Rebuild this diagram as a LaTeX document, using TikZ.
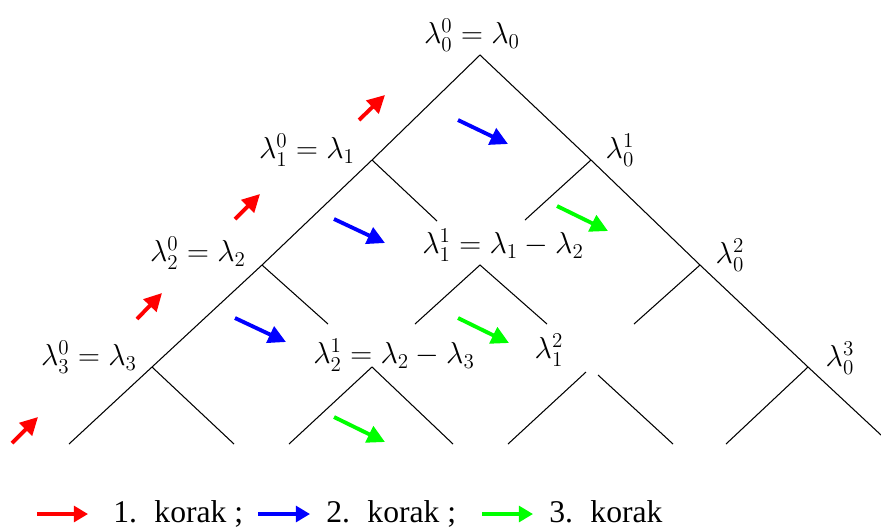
\documentclass[tikz,border=0pt]{standalone}
\usepackage{fontspec}
\newfontfamily\legfont{Liberation Serif}
\usepackage{tikz}
\usetikzlibrary{arrows.meta,calc}
\definecolor{stepred}{HTML}{FF0000}
\definecolor{stepblue}{HTML}{0000FF}
\definecolor{stepgreen}{HTML}{00FF00}
\tikzset{
  lbl/.style   ={inner sep=0pt, font=\fontsize{17}{20}\selectfont},
  ln/.style    ={draw=black, line width=.6pt},
  arr/.style   ={line width=2.2pt, -{Triangle[length=10pt,width=10pt]}},
  arrr/.style  ={arr, draw=stepred},
  arrb/.style  ={arr, draw=stepblue},
  arrg/.style  ={arr, draw=stepgreen},
  legarr/.style={line width=1.8pt, -{Triangle[length=8pt,width=9pt]}},
  leg/.style   ={font=\legfont\fontsize{18}{22}\selectfont, anchor=base west, inner sep=0pt},
}

\begin{document}
\begin{tikzpicture}[x=0.02cm,y=-0.02cm]
    \useasboundingbox (0,0) rectangle (881,529);
    % labels
    \node[lbl] (l00) at (472,35)  {$\lambda_0^0=\lambda_0$};
    \node[lbl] (l10) at (307,150) {$\lambda_1^0=\lambda_1$};
    \node[lbl] (l20) at (198,253) {$\lambda_2^0=\lambda_2$};
    \node[lbl] (l30) at (89,357)  {$\lambda_3^0=\lambda_3$};
    \node[lbl] (l01) at (620,150) {$\lambda_0^1$};
    \node[lbl] (l11) at (503,245) {$\lambda_1^1=\lambda_1-\lambda_2$};
    \node[lbl] (l02) at (730,255) {$\lambda_0^2$};
    \node[lbl] (l21) at (394,355) {$\lambda_2^1=\lambda_2-\lambda_3$};
    \node[lbl] (l12) at (549,350) {$\lambda_1^2$};
    \node[lbl] (l03) at (840,358) {$\lambda_0^3$};
    % junctions
    \coordinate (j00) at (480,55);
    \coordinate (j10) at (372,160);
    \coordinate (j01) at (591,160);
    \coordinate (j20) at (262,265);
    \coordinate (j11) at (480,265);
    \coordinate (j02) at (700,265);
    \coordinate (j30) at (152,367);
    \coordinate (j21) at (372,367);
    \coordinate (j03) at (808,367);
    % loose ends
    \coordinate (e10) at (437,221);
    \coordinate (e01) at (525,220);
    \coordinate (e20) at (328,324);
    \coordinate (e11a) at (415,324);
    \coordinate (e11b) at (547,324);
    \coordinate (e02) at (634,324);
    \coordinate (s12a) at (586,372);
    \coordinate (s12b) at (598,375);
    \coordinate (b0) at (69,444);
    \coordinate (b1) at (234,444);
    \coordinate (b2) at (289,444);
    \coordinate (b3) at (453,444);
    \coordinate (b4) at (508,444);
    \coordinate (b5) at (673,444);
    \coordinate (b6) at (726,444);
    \coordinate (b7) at (881,435);
    % tree
    \draw[ln] (b0) -- (j30) -- (j20) -- (j10) -- (j00) -- (j01) -- (j02) -- (j03) -- (b7);
    \draw[ln] (j10) -- (e10);
    \draw[ln] (j01) -- (e01);
    \draw[ln] (j20) -- (e20);
    \draw[ln] (e11a) -- (j11) -- (e11b);
    \draw[ln] (j02) -- (e02);
    \draw[ln] (j30) -- (b1);
    \draw[ln] (b2) -- (j21) -- (b3);
    \draw[ln] (s12a) -- (b4);
    \draw[ln] (s12b) -- (b5);
    \draw[ln] (j03) -- (b6);
    % steps
    \draw[arrr] (12,443) -- (38,417);
    \draw[arrr] (137,319) -- (162,293);
    \draw[arrr] (235,219) -- (260,194);
    \draw[arrr] (359,120) -- (385,95);
    \draw[arrb] (334,219) -- (385,243);
    \draw[arrb] (458,120) -- (508,144);
    \draw[arrb] (235,318) -- (286,342);
    \draw[arrg] (557,206) -- (608,231);
    \draw[arrg] (458,318) -- (509,343);
    \draw[arrg] (334,417) -- (385,442);
    % legend
    \draw[legarr,draw=stepred]   (37,514) -- (88,514);
    \node[leg] (k1) at (113,522) {1.\hspace{0.55em}korak ;};
    \draw[legarr,draw=stepblue]  (258,514) -- (310,514);
    \node[leg] (k2) at (326,522) {2.\hspace{0.55em}korak ;};
    \draw[legarr,draw=stepgreen] (482,514) -- (533,514);
    \node[leg] (k3) at (549,522) {3.\hspace{0.55em}korak};
\end{tikzpicture}
\end{document}
